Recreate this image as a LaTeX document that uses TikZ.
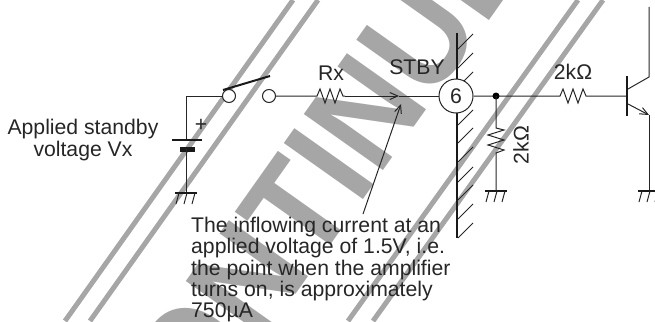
\documentclass[tikz,border=0pt]{standalone}
\usepackage{fontspec}
\setmainfont{Liberation Sans}
\usetikzlibrary{arrows.meta}
\tikzset{
  wire/.style={line width=1pt,black!85},
  plate/.style={line width=2.4pt,black!90},
  lbl/.style={font=\fontsize{21.2}{21.3}\selectfont,inner sep=0pt,text=black!85},
  pole/.style={circle,draw=black!85,line width=1pt,fill=white,inner sep=0pt,minimum size=13pt},
  stripe/.style={line width=5pt,black!35},
  barb/.style={-{Straight Barb[length=8pt,width=7pt]}},
}
\begin{document}
\begin{tikzpicture}[x=1pt,y=-1pt]
\useasboundingbox (0,0) rectangle (655,321);
% background lettering
\begin{scope}
\clip (0,0) rectangle (655,321);
\node[rotate=54.7,xscale=.9,text=black!35,inner sep=0pt] (stamp) at (268,250) {\fontsize{141}{141}\selectfont\bfseries DISCONTINUED};
\draw[stripe] (293,0)--(65,321);
\draw[stripe] (318,0)--(90,321);
\draw[stripe] (578,0)--(348,321);
\draw[stripe] (603,0)--(373,321);
\end{scope}
% supply side
\coordinate (corner) at (186,96);
\coordinate (plus) at (186,140);
\coordinate (minus) at (186,149);
\coordinate (gndl) at (186,193);
\node[pole] (swa) at (229,96) {};
\node[pole] (swb) at (269,96) {};
\draw[wire] (swa)--(corner)--(plus);
\draw[plate] (172,140)--(202,140);
\draw[line width=5pt,black!90] (180,149)--(195,149);
\draw[wire] (minus)--(gndl);
\draw[plate,line width=2pt] (223,90)--(270,76);
\node[lbl] (sign) at (201,125) {+};
\node[lbl,align=center] (vx) at (83,140) {Applied standby\\voltage Vx};
% input line
\coordinate (rxa) at (317,96);
\coordinate (rxb) at (345,96);
\coordinate (flow) at (399,96);
\draw[wire] (swb)--(rxa)--++(3,-7)--++(5,14)--++(5,-14)--++(5,14)--++(5,-14)--++(3,7)--(rxb);
\draw[wire,barb] (rxb)--(flow);
\node[lbl] (rx) at (331,73) {Rx};
\node[lbl] (pin) at (417,67) {STBY};
% chip edge
\draw[plate] (457,33)--(457,238);
\foreach \y in {34,53,72,110,128,147,167,185,204,223}
  \draw[wire] (458,\y+15)--(473,\y);
\node[circle,draw=black!85,line width=1pt,fill=white,minimum size=34pt,lbl] (six) at (456,96) {6};
\draw[wire] (flow)--(six);
% output side
\coordinate (tap) at (496,96);
\coordinate (rba) at (560,96);
\coordinate (base) at (627,96);
\draw[wire] (six)--(rba)--++(3,-7)--++(5,14)--++(5,-14)--++(5,14)--++(5,-14)--++(3,7)--(base);
\fill[black] (tap) circle (3.5);
\coordinate (rca) at (496,128);
\coordinate (gndm) at (496,191);
\draw[wire] (tap)--(rca)--++(8,2)--++(-16,5)--++(16,5)--++(-16,5)--++(16,5)--++(-8,3)--(gndm);
\node[lbl] (rb) at (573,72) {2kΩ};
\node[lbl,rotate=90] (rc) at (521,145) {2kΩ};
\draw[plate] (627,76)--(627,116);
\coordinate (coll) at (649,77);
\coordinate (colltop) at (649,7);
\coordinate (emit) at (649,115);
\coordinate (gndr) at (649,191);
\draw[wire] (628,89)--(coll)--(colltop);
\draw[wire,barb] (628,104)--(emit);
\draw[wire] (emit)--(gndr);
% grounds
\foreach \g in {gndl,gndm,gndr}{
  \draw[line width=1.6pt,black!90] ([xshift=-11pt]\g)--([xshift=11pt]\g);
  \foreach \d in {-7,1,9}
    \draw[wire] ([xshift=\d pt]\g)--([xshift=\d-3 pt,yshift=-11pt]\g);
}
% note
\node[lbl,align=left,anchor=north west] (note) at (191,217) {The inflowing current at an\\applied voltage of 1.5V, i.e.\\the point when the amplifier\\turns on, is approximately\\750µA};
\coordinate (lead) at (363,214);
\coordinate (tip) at (401,104);
\draw[wire,barb] (lead)--(tip);
\end{tikzpicture}
\end{document}
